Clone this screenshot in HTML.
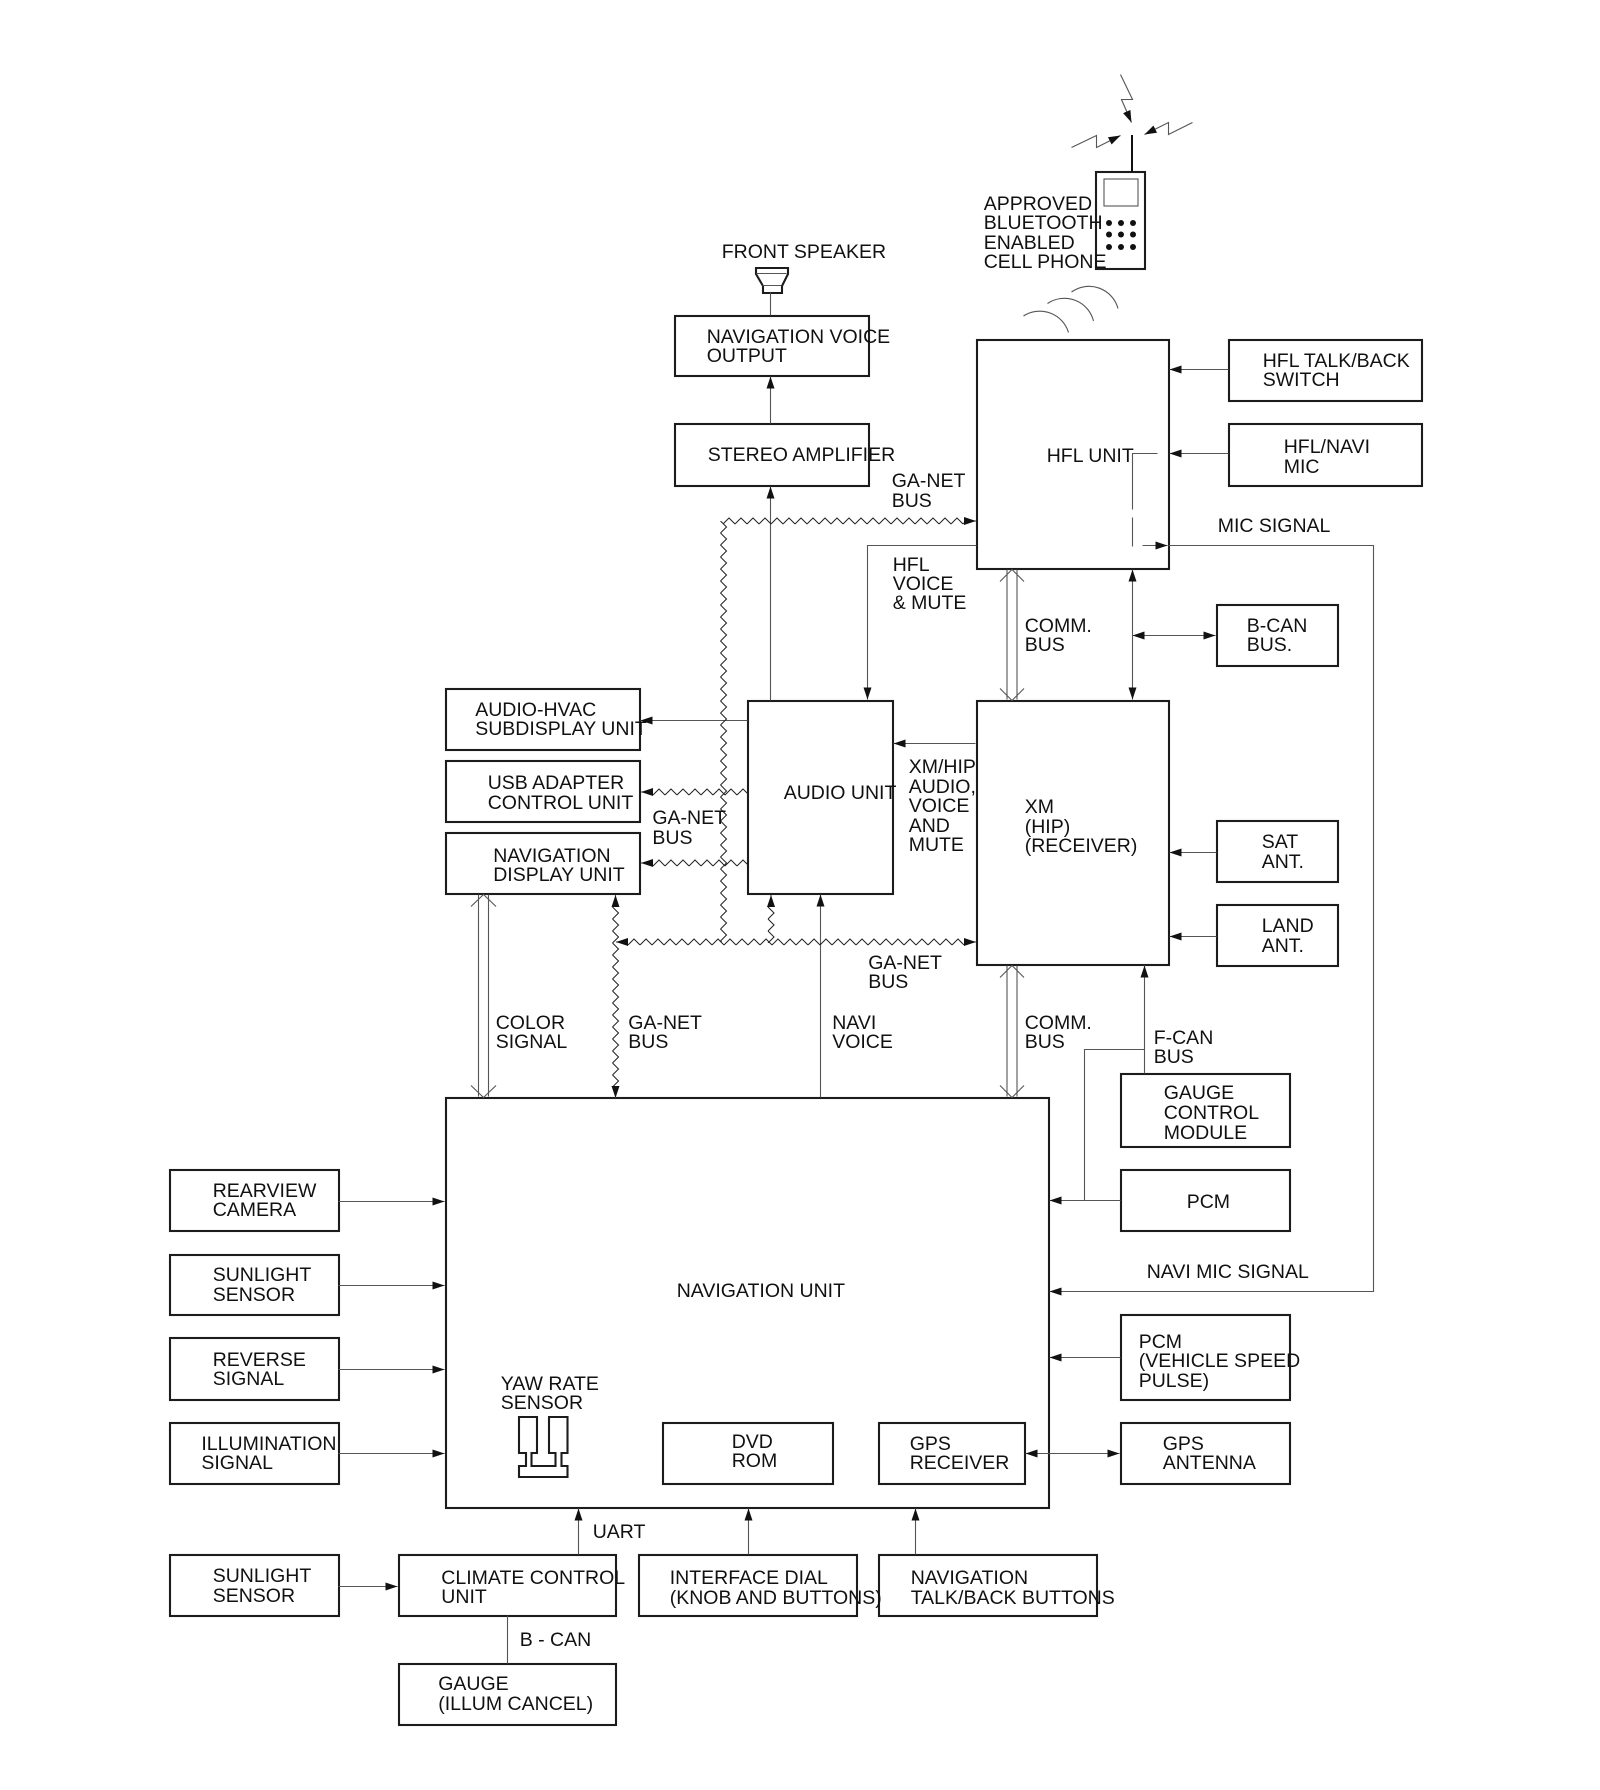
<!DOCTYPE html>
<html><head><meta charset="utf-8"><style>
html,body{margin:0;padding:0;background:#fff}
svg{display:block}
text{font-family:"Liberation Sans",sans-serif;font-size:19.5px;fill:#111}
.b{fill:none;stroke:#1c1c1c;stroke-width:2.1}
.t{fill:none;stroke:#555;stroke-width:1.1}
</style></head><body>
<svg width="1600" height="1790" viewBox="0 0 1600 1790" xmlns="http://www.w3.org/2000/svg">
<defs>
<marker id="a" markerUnits="userSpaceOnUse" markerWidth="13" markerHeight="9" refX="12" refY="4" orient="auto-start-reverse"><path d="M0,0L12,4L0,8z" fill="#111"/></marker>
<pattern id="z" width="12" height="8" patternUnits="userSpaceOnUse"><polyline points="0,7 6,1 12,7" fill="none" stroke="#222" stroke-width="1"/></pattern>
</defs>

<!-- boxes -->
<g class="b">
<rect x="675" y="316" width="194" height="60"/>
<rect x="675" y="424" width="194" height="62"/>
<rect x="977" y="340" width="192" height="229"/>
<rect x="1229" y="340" width="193" height="61"/>
<rect x="1229" y="424" width="193" height="62"/>
<rect x="1217" y="605" width="121" height="61"/>
<rect x="446" y="689" width="194" height="61"/>
<rect x="446" y="761" width="194" height="61"/>
<rect x="446" y="833" width="194" height="61"/>
<rect x="748" y="701" width="145" height="193"/>
<rect x="977" y="701" width="192" height="264"/>
<rect x="1217" y="821" width="121" height="61"/>
<rect x="1217" y="905" width="121" height="61"/>
<rect x="1121" y="1074" width="169" height="73"/>
<rect x="1121" y="1170" width="169" height="61"/>
<rect x="1121" y="1315" width="169" height="85"/>
<rect x="1121" y="1423" width="169" height="61"/>
<rect x="446" y="1098" width="603" height="410"/>
<rect x="663" y="1423" width="170" height="61"/>
<rect x="879" y="1423" width="146" height="61"/>
<rect x="170" y="1170" width="169" height="61"/>
<rect x="170" y="1255" width="169" height="60"/>
<rect x="170" y="1338" width="169" height="62"/>
<rect x="170" y="1423" width="169" height="61"/>
<rect x="170" y="1555" width="169" height="61"/>
<rect x="399" y="1555" width="217" height="61"/>
<rect x="639" y="1555" width="218" height="61"/>
<rect x="879" y="1555" width="218" height="61"/>
<rect x="399" y="1664" width="217" height="61"/>
<!-- phone -->
<rect x="1096" y="172" width="49" height="97"/>
<!-- speaker -->
<path d="M756,268H788V274L782,286V293H763V286L756,274z"/>
<!-- yaw sensor -->
<path d="M519,1417H537V1453H531.500V1466H555.500V1453H549V1417H567.500V1453H561.500V1466H567.500V1477H519V1466H526V1453H519z"/>
</g>
<line x1="1132" y1="135" x2="1132" y2="172" stroke="#111" stroke-width="2"/>
<rect x="1104" y="179" width="34" height="27" class="t"/>
<g fill="#111">
<circle cx="1109" cy="223" r="3"/><circle cx="1121" cy="223" r="3"/><circle cx="1133" cy="223" r="3"/>
<circle cx="1109" cy="234.500" r="3"/><circle cx="1121" cy="234.500" r="3"/><circle cx="1133" cy="234.500" r="3"/>
<circle cx="1109" cy="247" r="3"/><circle cx="1121" cy="247" r="3"/><circle cx="1133" cy="247" r="3"/>
</g>
<g class="t" transform="translate(-.5,-.5)">
<line x1="757" y1="274" x2="787" y2="274"/><line x1="763" y1="286" x2="782" y2="286"/>
<line x1="771" y1="293" x2="771" y2="316"/>
<!-- lightning -->
<polyline points="1121,75 1133,100 1122,100 1132,123" marker-end="url(#a)"/>
<polyline points="1072,148 1097,136 1097,148 1121,136" marker-end="url(#a)"/>
<polyline points="1193,123 1169,135 1169,123 1145,135" marker-end="url(#a)"/>
<!-- arcs -->
<path d="M1024,316.500A30,30 0 0 1 1069,333"/>
<path d="M1048,304A30,30 0 0 1 1094,321.500"/>
<path d="M1072,292.500A30,30 0 0 1 1118.500,309"/>
<!-- connectors -->
<line x1="771" y1="424" x2="771" y2="377" marker-end="url(#a)"/>
<line x1="771" y1="701" x2="771" y2="487" marker-end="url(#a)"/>
<line x1="1229" y1="370" x2="1170" y2="370" marker-end="url(#a)"/>
<line x1="1229" y1="454" x2="1170" y2="454" marker-end="url(#a)"/>
<polyline points="1158,454 1133,454 1133,510"/>
<line x1="1133" y1="518" x2="1133" y2="547"/>
<line x1="1143" y1="546" x2="1168" y2="546" marker-end="url(#a)"/>
<polyline points="1169,546 1374,546 1374,1292 1050,1292" marker-end="url(#a)"/>
<polyline points="977,546 868,546 868,700" marker-end="url(#a)"/>
<line x1="1133" y1="570" x2="1133" y2="700" marker-start="url(#a)" marker-end="url(#a)"/>
<line x1="1133" y1="636" x2="1216" y2="636" marker-start="url(#a)" marker-end="url(#a)"/>
<line x1="748" y1="721" x2="641" y2="721" marker-end="url(#a)"/>
<line x1="976" y1="744" x2="894" y2="744" marker-end="url(#a)"/>
<line x1="1217" y1="853" x2="1170" y2="853" marker-end="url(#a)"/>
<line x1="1217" y1="937" x2="1170" y2="937" marker-end="url(#a)"/>
<line x1="821" y1="1098" x2="821" y2="895" marker-end="url(#a)"/>
<line x1="1145" y1="1074" x2="1145" y2="966" marker-end="url(#a)"/>
<polyline points="1145,1050 1085,1050 1085,1201"/>
<line x1="1121" y1="1201" x2="1050" y2="1201" marker-end="url(#a)"/>
<line x1="1121" y1="1358" x2="1050" y2="1358" marker-end="url(#a)"/>
<line x1="1026" y1="1454" x2="1120" y2="1454" marker-start="url(#a)" marker-end="url(#a)"/>
<line x1="339" y1="1202" x2="445" y2="1202" marker-end="url(#a)"/>
<line x1="339" y1="1286" x2="445" y2="1286" marker-end="url(#a)"/>
<line x1="339" y1="1370" x2="445" y2="1370" marker-end="url(#a)"/>
<line x1="339" y1="1454" x2="445" y2="1454" marker-end="url(#a)"/>
<line x1="339" y1="1587" x2="398" y2="1587" marker-end="url(#a)"/>
<line x1="579" y1="1555" x2="579" y2="1509" marker-end="url(#a)"/>
<line x1="749" y1="1555" x2="749" y2="1509" marker-end="url(#a)"/>
<line x1="916" y1="1555" x2="916" y2="1509" marker-end="url(#a)"/>
<line x1="508" y1="1616" x2="508" y2="1664"/>
<!-- hollow double arrows -->
<path d="M479,895V1097M489,895V1097M471.500,907L484,895L496.500,907M471.500,1086L484,1098L496.500,1086"/>
<path d="M1007.500,570V700M1017.500,570V700M1000.500,582L1012.500,570L1024.500,582M1000.500,689L1012.500,701L1024.500,689"/>
<path d="M1007.500,966V1097M1017.500,966V1097M1000.500,978L1012.500,966L1024.500,978M1000.500,1086L1012.500,1098L1024.500,1086"/>
</g>

<!-- zigzag buses -->
<g fill="url(#z)">
<rect transform="translate(723,517)" width="241" height="8"/>
<rect transform="translate(727.500,521) rotate(90)" width="421" height="8"/>
<rect transform="translate(628,938)" width="336" height="8"/>
<rect transform="translate(619.500,907) rotate(90)" width="180" height="8"/>
<rect transform="translate(775,907) rotate(90)" width="36" height="8"/>
<rect transform="translate(653,788)" width="95" height="8"/>
<rect transform="translate(653,859)" width="95" height="8"/>
</g>
<g class="t">
<line x1="964" y1="521" x2="976" y2="521" marker-end="url(#a)"/>
<line x1="628" y1="942" x2="616" y2="942" marker-end="url(#a)"/>
<line x1="964" y1="942" x2="976" y2="942" marker-end="url(#a)"/>
<line x1="615.500" y1="907" x2="615.500" y2="895" marker-end="url(#a)"/>
<line x1="615.500" y1="1086" x2="615.500" y2="1098" marker-end="url(#a)"/>
<line x1="771" y1="907" x2="771" y2="895" marker-end="url(#a)"/>
<line x1="653" y1="792" x2="641" y2="792" marker-end="url(#a)"/>
<line x1="653" y1="863" x2="641" y2="863" marker-end="url(#a)"/>
</g>

<!-- text -->
<g transform="translate(-.3,0)">
<text x="722" y="258">FRONT SPEAKER</text>
<text x="984" y="210">APPROVED</text><text x="984" y="229">BLUETOOTH</text><text x="984" y="249">ENABLED</text><text x="984" y="268">CELL PHONE</text>
<text x="707" y="343">NAVIGATION VOICE</text><text x="707" y="362">OUTPUT</text>
<text x="708" y="461">STEREO AMPLIFIER</text>
<text x="892" y="487">GA-NET</text><text x="892" y="507">BUS</text>
<text x="1263" y="367">HFL TALK/BACK</text><text x="1263" y="386">SWITCH</text>
<text x="1284" y="453">HFL/NAVI</text><text x="1284" y="473">MIC</text>
<text x="1047" y="462">HFL UNIT</text>
<text x="1218" y="532">MIC SIGNAL</text>
<text x="893" y="571">HFL</text><text x="893" y="590">VOICE</text><text x="893" y="609">&amp; MUTE</text>
<text x="1025" y="632">COMM.</text><text x="1025" y="651">BUS</text>
<text x="1247" y="632">B-CAN</text><text x="1247" y="651">BUS.</text>
<text x="475.500" y="716">AUDIO-HVAC</text><text x="475.500" y="735">SUBDISPLAY UNIT</text>
<text x="488" y="789">USB ADAPTER</text><text x="488" y="809">CONTROL UNIT</text>
<text x="493.500" y="862">NAVIGATION</text><text x="493.500" y="881">DISPLAY UNIT</text>
<text x="652.700" y="824">GA-NET</text><text x="652.700" y="844">BUS</text>
<text x="784" y="799">AUDIO UNIT</text>
<text x="909" y="773">XM/HIP</text><text x="909" y="793">AUDIO,</text><text x="909" y="812">VOICE</text><text x="909" y="832">AND</text><text x="909" y="851">MUTE</text>
<text x="1025" y="813">XM</text><text x="1025" y="833">(HIP)</text><text x="1025" y="852">(RECEIVER)</text>
<text x="1262" y="848">SAT</text><text x="1262" y="868">ANT.</text>
<text x="1262" y="932">LAND</text><text x="1262" y="952">ANT.</text>
<text x="868.500" y="969">GA-NET</text><text x="868.500" y="988">BUS</text>
<text x="496" y="1029">COLOR</text><text x="496" y="1048">SIGNAL</text>
<text x="628.600" y="1029">GA-NET</text><text x="628.600" y="1048">BUS</text>
<text x="832.500" y="1029">NAVI</text><text x="832.500" y="1048">VOICE</text>
<text x="1025" y="1029">COMM.</text><text x="1025" y="1048">BUS</text>
<text x="1154" y="1044">F-CAN</text><text x="1154" y="1063">BUS</text>
<text x="1164" y="1099">GAUGE</text><text x="1164" y="1119">CONTROL</text><text x="1164" y="1139">MODULE</text>
<text x="1187" y="1208">PCM</text>
<text x="1147" y="1278">NAVI MIC SIGNAL</text>
<text x="677" y="1297">NAVIGATION UNIT</text>
<text x="1139" y="1348">PCM</text><text x="1139" y="1367">(VEHICLE SPEED</text><text x="1139" y="1387">PULSE)</text>
<text x="1163" y="1450">GPS</text><text x="1163" y="1469">ANTENNA</text>
<text x="910" y="1450">GPS</text><text x="910" y="1469">RECEIVER</text>
<text x="732" y="1448">DVD</text><text x="732" y="1467">ROM</text>
<text x="213" y="1197">REARVIEW</text><text x="213" y="1216">CAMERA</text>
<text x="213" y="1281">SUNLIGHT</text><text x="213" y="1301">SENSOR</text>
<text x="213" y="1366">REVERSE</text><text x="213" y="1385">SIGNAL</text>
<text x="201.700" y="1450">ILLUMINATION</text><text x="201.700" y="1469">SIGNAL</text>
<text x="501" y="1390">YAW RATE</text><text x="501" y="1409">SENSOR</text>
<text x="593" y="1538">UART</text>
<text x="213" y="1582">SUNLIGHT</text><text x="213" y="1602">SENSOR</text>
<text x="441.600" y="1584">CLIMATE CONTROL</text><text x="441.600" y="1603">UNIT</text>
<text x="670" y="1584">INTERFACE DIAL</text><text x="670" y="1604">(KNOB AND BUTTONS)</text>
<text x="911" y="1584">NAVIGATION</text><text x="911" y="1604">TALK/BACK BUTTONS</text>
<text x="520" y="1646">B - CAN</text>
<text x="438.500" y="1690">GAUGE</text><text x="438.500" y="1710">(ILLUM CANCEL)</text>
</g>
</svg>
</body></html>
